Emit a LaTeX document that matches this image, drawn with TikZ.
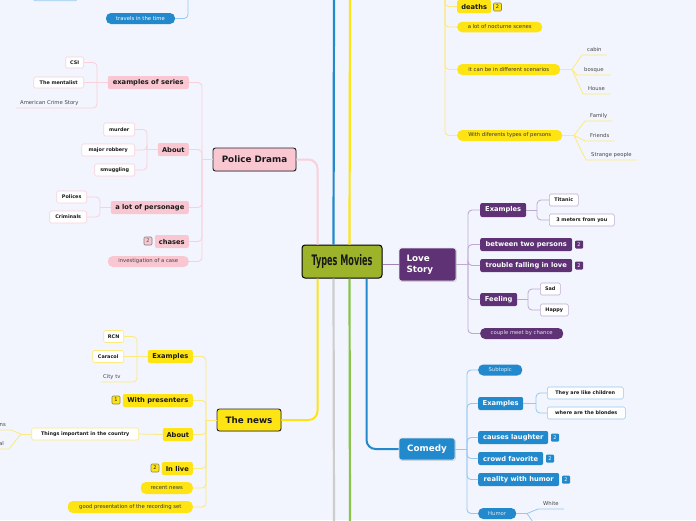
\documentclass[tikz,border=0pt]{standalone}
\usepackage{fontspec}
\setmainfont{DejaVu Sans}
\setsansfont{DejaVu Sans}
\newfontfamily\titlefont[FakeStretch=0.56]{DejaVu Sans}
\usetikzlibrary{shadows}
\definecolor{bg}{RGB}{242,245,253}
\definecolor{pinkF}{RGB}{249,199,209}
\definecolor{pinkL}{RGB}{250,208,218}
\definecolor{yelF}{RGB}{255,228,20}
\definecolor{yelL}{RGB}{252,234,125}
\definecolor{purF}{RGB}{94,50,117}
\definecolor{purL}{RGB}{190,170,208}
\definecolor{purM}{RGB}{160,130,180}
\definecolor{bluF}{RGB}{35,137,205}
\definecolor{bluL}{RGB}{150,200,240}
\definecolor{grnF}{RGB}{157,180,42}
\definecolor{grnL}{RGB}{139,195,74}
\definecolor{grayL}{RGB}{205,205,205}
\definecolor{txt}{RGB}{25,25,25}
\definecolor{ptxt}{RGB}{70,70,70}
\newcommand\fmainx{\fontsize{8.8}{10.5}\selectfont\bfseries}
\newcommand\fsubx{\fontsize{6.7}{8}\selectfont\bfseries}
\newcommand\fleafx{\fontsize{4.9}{6}\selectfont\bfseries}
\newcommand\fpillx{\fontsize{5.3}{6}\selectfont}
\newcommand\fplainx{\fontsize{5.3}{6}\selectfont}
\newcommand\fbadgex{\fontsize{5}{5.5}\selectfont}
\tikzset{
  mmbox/.style={inner sep=0pt, align=center, text=txt},
  mmmain/.style={mmbox, font=\fmainx, line width=0.9pt, rounded corners=2.5pt, minimum height=23pt,
    drop shadow={opacity=0.25, shadow xshift=0.8pt, shadow yshift=-0.8pt}},
  mmsub/.style={mmbox, font=\fsubx, rounded corners=2pt, minimum height=13pt},
  mmleaf/.style={mmbox, font=\fleafx, fill=white, line width=0.6pt, rounded corners=1.5pt, minimum height=12pt},
  mmpill/.style={mmbox, font=\fpillx, rounded corners=5pt, minimum height=11pt},
  mmtxt/.style={inner xsep=5pt, inner ysep=2.5pt, text height=3.8pt, text depth=1.2pt, font=\fplainx, text=ptxt, anchor=south west},
  mmbadge/.style={mmbox, font=\fbadgex, rounded corners=1pt, minimum width=8pt, minimum height=8pt, line width=0.6pt},
  mmlink/.style={rounded corners=4pt, line width=0.8pt},
  mmtrunk/.style={rounded corners=9pt, line width=2pt},
}
\begin{document}
\begin{tikzpicture}[x=1pt,y=-1pt]
\fill[bg] (0,0) rectangle (696,520);
\useasboundingbox (0,0) rectangle (696,520);

% ---------- central node ----------
\node[mmbox, font={\titlefont\fontsize{14.5}{16}\selectfont\bfseries}, fill=grnF, draw=black, line width=1pt,
  rounded corners=3pt, minimum width=80pt, minimum height=33pt] (c) at (342,261.5) {Types Movies};

% long vertical branches
\coordinate (blueTop) at (334,-5);
\coordinate (yelTop) at (350,-5);
\coordinate (grayBot) at (334,525);
\coordinate (grnBot) at (350,525);
\draw[bluF, line width=2.2pt] ([xshift=32pt]c.north west) -- (blueTop);
\draw[yelF, line width=2.2pt] ([xshift=48pt]c.north west) -- (yelTop);
\draw[grayL, line width=2.2pt] ([xshift=32pt]c.south west) -- (grayBot);
\draw[grnL, line width=2.2pt] ([xshift=48pt]c.south west) -- (grnBot);

% ---------- sci-fi fragments (top left) ----------
\node[mmleaf, draw=bluL, minimum width=44pt, minimum height=14pt, anchor=south west] (tlbox) at (33,1) {};
\node[mmpill, fill=bluF, text=white, minimum width=69pt] (tt) at (140.5,18.5) {travels in the time};
\coordinate (ttup) at (188,-5);
\draw[bluL, mmlink] (tt.east) -| (ttup);

% ---------- Police Drama ----------
\node[mmmain, fill=pinkF, draw=black!85, minimum width=83pt] (pd) at (254.5,159.5) {Police Drama};
\draw[pinkL, mmtrunk] (pd.east) -| ([xshift=16pt]c.north west);
\node[mmsub, fill=pinkF, minimum width=81pt, anchor=east] (pd1) at (189,82.5) {examples of series};
\node[mmsub, fill=pinkF, minimum width=31pt, anchor=east] (pd2) at (189,149.5) {About};
\node[mmsub, fill=pinkF, minimum width=78pt, anchor=east] (pd3) at (189,207.5) {a lot of personage};
\node[mmsub, fill=pinkF, minimum width=34pt, anchor=east] (pd4) at (189,241.5) {chases};
\node[mmbadge, fill=pinkF, draw=gray, text=black!70] (pdb) at (148,241) {2};
\node[mmpill, fill=pinkF, text=black!75, minimum width=81pt, anchor=east] (pd5) at (189,261.5) {investigation of a case};
\coordinate (pdj) at (202,159.5);
\draw[pinkL, line width=0.9pt] (pd.west) -- (pdj);
\foreach \n in {pd1,pd2,pd3,pd4,pd5} \draw[pinkL, mmlink, line width=0.9pt] (pdj) |- (\n.east);

\node[mmleaf, draw=pinkL, minimum width=18pt, minimum height=11pt, anchor=east] (csi) at (84,62.5) {CSI};
\node[mmleaf, draw=pinkL, minimum width=50pt, minimum height=11pt, anchor=east] (ment) at (84,82.5) {The mentalist};
\node[mmtxt, inner xsep=4pt] (acs) at (16,108) {American Crime Story};
\coordinate (pdf1) at (97,82.5);
\draw[pinkL, mmlink] (pd1.west) -- (pdf1);
\draw[pinkL, mmlink] (pdf1) |- (csi.east);
\draw[pinkL, mmlink] (pdf1) -- (ment.east);
\draw[pinkL, mmlink] (pdf1) |- (acs.south west);

\node[mmleaf, draw=pinkL, minimum width=31pt, minimum height=13pt, anchor=east] (mur) at (135,129.5) {murder};
\node[mmleaf, draw=pinkL, minimum width=53pt, anchor=east] (rob) at (135,150) {major robbery};
\node[mmleaf, draw=pinkL, minimum width=40pt, anchor=east] (smu) at (135,170) {smuggling};
\coordinate (pdf2) at (147,149.5);
\draw[pinkL, mmlink] (pd2.west) -- (pdf2);
\foreach \n in {mur,rob,smu} \draw[pinkL, mmlink] (pdf2) |- (\n.east);

\node[mmleaf, draw=pinkL, minimum width=30pt, anchor=east] (pol) at (87,197) {Polices};
\node[mmleaf, draw=pinkL, minimum width=37pt, anchor=east] (cri) at (87,217) {Criminals};
\coordinate (pdf3) at (100,207.5);
\draw[pinkL, mmlink] (pd3.west) -- (pdf3);
\foreach \n in {pol,cri} \draw[pinkL, mmlink] (pdf3) |- (\n.east);

% ---------- The news ----------
\node[mmmain, fill=yelF, draw=black!85, minimum width=64pt, minimum height=22pt] (nw) at (249,420) {The news};
\draw[yelF, mmtrunk] (nw.east) -| ([xshift=16pt]c.south west);
\node[mmsub, fill=yelF, minimum width=45pt, anchor=east] (n1) at (193,356.5) {Examples};
\node[mmsub, fill=yelF, minimum width=70pt, anchor=east] (n2) at (193,400.5) {With presenters};
\node[mmbadge, fill=yelF, draw=black!55!yellow!70!gray] (nb1) at (116,400) {1};
\node[mmsub, fill=yelF, minimum width=30pt, anchor=east] (n3) at (193,434.5) {About};
\node[mmsub, fill=yelF, minimum width=31pt, anchor=east] (n4) at (193,468.5) {In live};
\node[mmbadge, fill=yelF, draw=black!55!yellow!70!gray] (nb2) at (155,468) {2};
\node[mmpill, fill=yelF, text=black!80, minimum width=52pt, minimum height=12pt, anchor=east] (n5) at (193,488) {recent news};
\node[mmpill, fill=yelF, text=black!80, minimum width=125pt, minimum height=12pt, anchor=east] (n6) at (193,507) {good presentation of the recording set};
\coordinate (nj) at (206,420);
\draw[yelL, line width=0.9pt] (nw.west) -- (nj);
\foreach \n in {n1,n2,n3,n4,n5,n6} \draw[yelL, mmlink, line width=0.9pt] (nj) |- (\n.east);

\node[mmleaf, draw=yelL, minimum width=20pt, anchor=east] (rcn) at (124,336.5) {RCN};
\node[mmleaf, draw=yelL, minimum width=31pt, anchor=east] (car) at (124,356.5) {Caracol};
\node[mmtxt, inner xsep=2pt] (city) at (101,382) {City tv};
\coordinate (nf1) at (137,356.5);
\draw[yelL, mmlink] (n1.west) -- (nf1);
\draw[yelL, mmlink] (nf1) |- (rcn.east);
\draw[yelL, mmlink] (nf1) -- (car.east);
\draw[yelL, mmlink] (nf1) |- (city.south west);

\node[mmleaf, draw=yelL, minimum width=107pt, anchor=east] (thg) at (139,434) {Things important in the country};
\draw[yelL, mmlink] (n3.west) -- (thg.east);
\node[mmtxt, anchor=south east] (nsx) at (11,430) {ns};
\node[mmtxt, anchor=south east] (alx) at (9,449) {al};
\coordinate (nf3) at (21,434);
\draw[yelL, line width=0.8pt] (thg.west) -- (nf3);
\draw[yelL, line width=0.8pt] (nf3) -- (nsx.south east) -- (nsx.south west);
\draw[yelL, line width=0.8pt] (nf3) -- (alx.south east) -- (alx.south west);

% ---------- Horror fragment (top right) ----------
\coordinate (hj) at (445,-5);
\node[mmsub, fill=yelF, minimum width=34pt, anchor=west] (h1) at (457,6.5) {deaths};
\node[mmbadge, fill=yelF, draw=black!55!yellow!70!gray] (hb) at (497.5,7) {2};
\node[mmpill, fill=yelF, text=black!80, minimum width=85pt, minimum height=10.5pt, anchor=west] (h2) at (457,27) {a lot of nocturne scenes};
\node[mmpill, fill=yelF, text=black!80, minimum width=103pt, anchor=west] (h3) at (457,69.5) {it can be in different scenarios};
\node[mmpill, fill=yelF, text=black!80, minimum width=105pt, anchor=west] (h4) at (457,135.5) {With diferents types of persons};
\foreach \n in {h1,h2,h3,h4} \draw[yelL, mmlink, line width=0.9pt] (hj) |- (\n.west);

\coordinate (hf3) at (572,69.5);
\node[mmtxt] (cab) at (582,55) {cabin};
\node[mmtxt, inner xsep=7pt] (bos) at (577,75) {bosque};
\node[mmtxt] (hou) at (583,94) {House};
\draw[yelL, line width=0.8pt] (h3.east) -- (hf3);
\foreach \n in {cab,bos,hou} \draw[yelL, line width=0.8pt] (hf3) -- (\n.south west) -- (\n.south east);

\coordinate (hf4) at (574,135.5);
\node[mmtxt] (fam) at (585,121) {Family};
\node[mmtxt] (fri) at (585,141) {Friends};
\node[mmtxt] (str) at (586,160) {Strange people};
\draw[yelL, line width=0.8pt] (h4.east) -- (hf4);
\foreach \n in {fam,fri,str} \draw[yelL, line width=0.8pt] (hf4) -- (\n.south west) -- (\n.south east);

% ---------- Love Story ----------
\node[mmbox, font=\fmainx, fill=purF, text=white, align=left, text width=42pt, minimum width=57pt, minimum height=33pt,
  draw=white!80!gray, line width=0.8pt, rounded corners=2.5pt,
  drop shadow={opacity=0.25, shadow xshift=0.8pt, shadow yshift=-0.8pt}] (ls) at (427.5,264.5) {Love\\Story};
\draw[purM, line width=1pt] (c.east |- ls.west) -- (ls.west);
\node[mmsub, fill=purF, text=white, minimum width=46pt, minimum height=14pt, anchor=west] (l1) at (480,210) {Examples};
\node[mmsub, fill=purF, text=white, minimum width=92pt, anchor=west] (l2) at (480,244.5) {between two persons};
\node[mmbadge, fill=purF, text=white] (lb2) at (579,244.5) {2};
\node[mmsub, fill=purF, text=white, minimum width=92pt, anchor=west] (l3) at (480,265.5) {trouble falling in love};
\node[mmbadge, fill=purF, text=white] (lb3) at (579,265.5) {2};
\node[mmsub, fill=purF, text=white, minimum width=37pt, anchor=west] (l4) at (480,299.5) {Feeling};
\node[mmpill, fill=purF, text=white!85!purF, minimum width=83pt, anchor=west] (l5) at (480,333.5) {couple meet by chance};
\coordinate (lj) at (468,264.5);
\draw[purL, line width=0.9pt] (ls.east) -- (lj);
\foreach \n in {l1,l2,l3,l4,l5} \draw[purL, mmlink, line width=0.9pt] (lj) |- (\n.west);

\node[mmleaf, draw=purL, minimum width=29pt, anchor=west] (tit) at (549,200) {Titanic};
\node[mmleaf, draw=purL, minimum width=65pt, anchor=west] (mtr) at (549,220) {3 meters from you};
\coordinate (lf1) at (537,210);
\draw[purL, mmlink] (l1.east) -- (lf1);
\foreach \n in {tit,mtr} \draw[purL, mmlink] (lf1) |- (\n.west);
\node[mmleaf, draw=purL, minimum width=20pt, anchor=west] (sad) at (540,289) {Sad};
\node[mmleaf, draw=purL, minimum width=28pt, anchor=west] (hap) at (540,310) {Happy};
\coordinate (lf4) at (528,299.5);
\draw[purL, mmlink] (l4.east) -- (lf4);
\foreach \n in {sad,hap} \draw[purL, mmlink] (lf4) |- (\n.west);

% ---------- Comedy ----------
\node[mmmain, fill=bluF, text=white, draw=white!80!gray, line width=0.8pt, minimum width=56pt, minimum height=22pt] (cm) at (427,449) {Comedy};
\draw[bluF, mmtrunk] ([xshift=65pt]c.south west) |- (cm.west);
\node[mmpill, fill=bluF, text=white!85!bluF, minimum width=44pt, anchor=west] (k1) at (478,370) {Subtopic};
\node[mmsub, fill=bluF, text=white, minimum width=45pt, anchor=west] (k2) at (478,403.5) {Examples};
\node[mmsub, fill=bluF, text=white, minimum width=70pt, anchor=west] (k3) at (478,437.5) {causes laughter};
\node[mmbadge, fill=bluF, text=white] (kb3) at (555,437.5) {2};
\node[mmsub, fill=bluF, text=white, minimum width=65pt, anchor=west] (k4) at (478,458.5) {crowd favorite};
\node[mmbadge, fill=bluF, text=white] (kb4) at (550,458.5) {2};
\node[mmsub, fill=bluF, text=white, minimum width=81pt, anchor=west] (k5) at (478,479.5) {reality with humor};
\node[mmbadge, fill=bluF, text=white] (kb5) at (566,479.5) {2};
\node[mmpill, fill=bluF, text=white!85!bluF, minimum width=38pt, anchor=west] (k6) at (478,513.5) {Humor};
\coordinate (cj) at (467,449);
\draw[bluL, line width=0.9pt] (cm.east) -- (cj);
\foreach \n in {k1,k2,k3,k4,k5,k6} \draw[bluL, mmlink, line width=0.9pt] (cj) |- (\n.west);

\node[mmleaf, draw=bluL, minimum width=76pt, anchor=west] (kid) at (547,393) {They are like children};
\node[mmleaf, draw=bluL, minimum width=78pt, anchor=west] (blo) at (547,413) {where are the blondes};
\coordinate (kf2) at (536,403.5);
\draw[bluL, mmlink] (k2.east) -- (kf2);
\foreach \n in {kid,blo} \draw[bluL, mmlink] (kf2) |- (\n.west);

\coordinate (kf6) at (527,513.5);
\coordinate (kdown) at (535,525);
\node[mmtxt] (wht) at (538,509) {White};
\draw[bluL, line width=0.8pt] (k6.east) -- (kf6);
\draw[bluL, line width=0.8pt] (kf6) -- (wht.south west) -- (wht.south east);
\draw[bluL, line width=0.8pt] (kf6) -- (kdown);
\end{tikzpicture}
\end{document}
